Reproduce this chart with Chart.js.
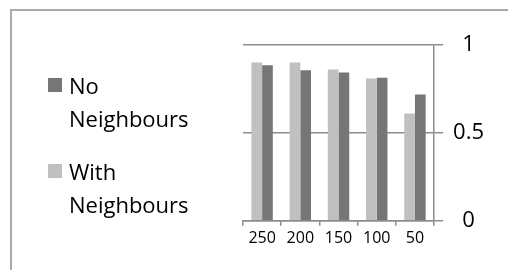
<!DOCTYPE html>
<html>
<head>
<meta charset="utf-8">
<script src="https://cdn.jsdelivr.net/npm/chart.js@4.4.1/dist/chart.umd.min.js"></script>
<style>
  html, body { margin: 0; padding: 0; background: #fff; overflow: hidden; }
  #frame { position: absolute; left: 10px; top: 9px; width: 600px; height: 400px; border: 2px solid #a9a9a9; }
  #wrap { position: absolute; left: 0; top: 0; width: 508px; height: 270px; }
</style>
</head>
<body>
<div id="frame"></div>
<div id="wrap"><canvas id="chart"></canvas></div>
<script>
var categories = ["250", "200", "150", "100", "50"];
var withNeighbours = [0.90, 0.90, 0.86, 0.81, 0.61];
var noNeighbours = [0.885, 0.857, 0.844, 0.813, 0.718];
var yTicks = [0, 0.5, 1];

// legend drawn on the left, two lines per entry like the original
var sideLegend = {
    id: 'sideLegend',
    afterDraw: function(chart) {
        var ctx = chart.ctx;
        var items = chart.data.datasets.slice().reverse();
        ctx.save();
        ctx.font = '22px "Open Sans"';
        ctx.textBaseline = 'alphabetic';
        var y = 94;
        items.forEach(function(ds) {
            ctx.fillStyle = ds.backgroundColor;
            ctx.fillRect(48, y - 16, 14, 14);
            ctx.fillStyle = '#000';
            var lines = ds.label.split(' ');
            lines.forEach(function(line, i) {
                ctx.fillText(line, 69, y + i * 33);
            });
            y += 86;
        });
        ctx.restore();
    }
};

var ctx = document.getElementById('chart');
var chart = new Chart(ctx, {
    type: 'bar',
    data: {
        labels: categories,
        datasets: [
            {
                label: "With Neighbours",
                backgroundColor: "#c0c0c0",
                data: withNeighbours
            },
            {
                label: "No Neighbours",
                backgroundColor: "#767676",
                data: noNeighbours
            }
        ]
    },
    options: {
        responsive: true,
        maintainAspectRatio: false,
        animation: false,
        layout: { padding: { left: 243, top: 45, right: 14, bottom: 19 } },
        plugins: { legend: { display: false }, tooltip: { enabled: false } },
        datasets: { bar: { categoryPercentage: 0.56, barPercentage: 1 } },
        scales: {
            x: {
                grid: { drawOnChartArea: false, drawTicks: true, tickLength: 5, color: '#8c8c8c', lineWidth: 1.5 },
                border: { color: '#8c8c8c', width: 1.5 },
                ticks: { color: '#000', font: { family: 'Open Sans', size: 16 }, padding: 3, maxRotation: 0 }
            },
            y: {
                position: 'right',
                min: 0,
                max: 1,
                afterBuildTicks: function(axis) {
                    axis.ticks = yTicks.map(function(v) { return { value: v }; });
                },
                grid: { color: '#8c8c8c', lineWidth: 1.5, tickLength: 9 },
                border: { color: '#8c8c8c', width: 1.5 },
                ticks: {
                    color: '#000',
                    font: { family: 'Open Sans', size: 22 },
                    padding: 10,
                    crossAlign: 'center',
                    callback: function(value) { return String(value); }
                }
            }
        }
    },
    plugins: [sideLegend]
});
</script>
</body>
</html>
